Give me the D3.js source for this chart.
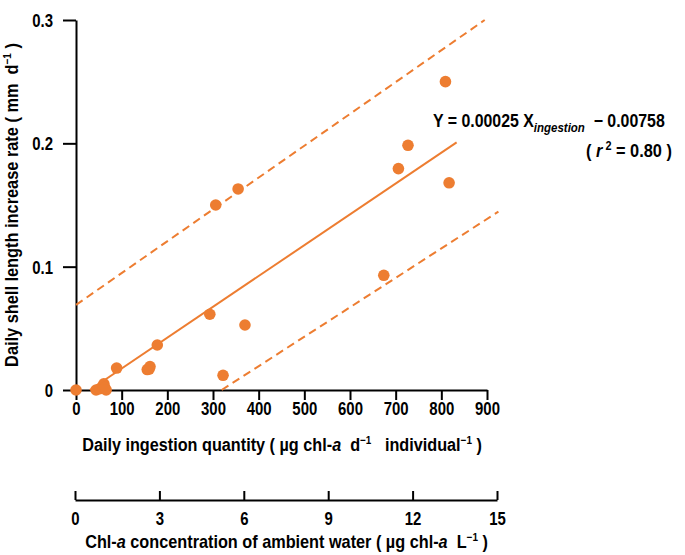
<!DOCTYPE html>
<html>
<head>
<meta charset="utf-8">
<script src="https://cdn.jsdelivr.net/npm/d3@7"></script>
<style>
  html, body { margin: 0; padding: 0; background: #fff; }
  svg { display: block; }
  text { font-family: "Liberation Sans Narrow", "Arial Narrow", "Liberation Sans", sans-serif; font-weight: bold; fill: #000; white-space: pre; }
</style>
</head>
<body>
<svg id="chart" width="685" height="555"></svg>
<script>
// ---- data ----
const ingestion = [0, 44, 52, 59, 61, 63, 66, 89, 156, 160, 162, 178, 293, 306, 322, 355, 370, 674, 706, 727, 809, 817];
const growth    = [0, 0.000, 0.001, 0.003, 0.005, 0.002, 0.000, 0.0178, 0.0166, 0.0170, 0.0190, 0.0365, 0.0614, 0.150, 0.0119, 0.163, 0.0527, 0.093, 0.1795, 0.1984, 0.250, 0.168];
const fitX = [30.3, 833.5];                 // Y = 0.00025 X - 0.00758
const fitY = fitX.map(v => 0.00025 * v - 0.00758);
const upperX = [0, 895];
const upperY = [0.069, 0.300];
const lowerX = [319, 925];
const lowerY = [0.000, 0.1446];
const xTicks = [0, 100, 200, 300, 400, 500, 600, 700, 800, 900];
const yTicks = [0, 0.1, 0.2, 0.3];
const x2Ticks = [0, 3, 6, 9, 12, 15];

const orange = "#ED7D31";
const squeeze = 0.83;
const svg = d3.select("#chart");

const x = d3.scaleLinear().domain([0, 900]).range([76, 487]);
const y = d3.scaleLinear().domain([0, 0.3]).range([390, 20]);
const x2 = d3.scaleLinear().domain([0, 15]).range([75, 497]);

// axes
const yAxis = svg.append("g").attr("transform", "translate(76,0)")
  .call(d3.axisLeft(y).tickValues(yTicks).tickSizeInner(13).tickSizeOuter(0).tickPadding(10)
    .tickFormat(d => d === 0 ? "0" : d3.format(".1f")(d)));
const xAxis = svg.append("g").attr("transform", "translate(0,390)")
  .call(d3.axisBottom(x).tickValues(xTicks).tickSizeInner(10).tickSizeOuter(0).tickPadding(2));
const x2Axis = svg.append("g").attr("transform", "translate(0,500)")
  .call(d3.axisBottom(x2).tickValues(x2Ticks).tickSizeInner(-9).tickSizeOuter(0).tickPadding(12));

[yAxis, xAxis, x2Axis].forEach(g => {
  g.selectAll("path, line").attr("stroke", "#000").attr("stroke-width", 2);
  g.selectAll("text").style("font-size", "18px").style("font-family", null).attr("fill", "#000")
    .attr("transform", `scale(${squeeze},1)`);
});
yAxis.selectAll("text").attr("dy", "0.36em").attr("x", -23 / squeeze);
xAxis.selectAll("text").attr("x", 0);
x2Axis.selectAll("text").attr("x", 0);

// lines
const line = d3.line().x(d => x(d[0])).y(d => y(d[1]));
svg.append("path").datum(d3.zip(upperX, upperY)).attr("d", line)
  .attr("fill", "none").attr("stroke", orange).attr("stroke-width", 2).attr("stroke-dasharray", "8,5");
svg.append("path").datum(d3.zip(lowerX, lowerY)).attr("d", line)
  .attr("fill", "none").attr("stroke", orange).attr("stroke-width", 2).attr("stroke-dasharray", "8,5");
svg.append("path").datum(d3.zip(fitX, fitY)).attr("d", line)
  .attr("fill", "none").attr("stroke", orange).attr("stroke-width", 2);

// points
svg.append("g").selectAll("circle").data(d3.zip(ingestion, growth)).join("circle")
  .attr("cx", d => x(d[0])).attr("cy", d => y(d[1])).attr("r", 5.8).attr("fill", orange);

// text helper: build in a group, then squeeze horizontally to a target width
function label(tx, ty, anchor, width, rotate, build) {
  const g = svg.append("g");
  const t = g.append("text").attr("x", 0).attr("y", 0).attr("text-anchor", anchor).attr("font-size", 18);
  build(t);
  const w = t.node().getBBox().width;
  const s = width / w;
  g.attr("transform", `translate(${tx},${ty})${rotate ? " rotate(" + rotate + ")" : ""} scale(${s},1)`);
  return t;
}
const NB = "\u00A0";

// y title
label(18, 205, "middle", 324, -90, t => {
  t.append("tspan").text(`Daily shell length increase rate ( mm${NB}${NB}d`);
  t.append("tspan").attr("font-size", 11).attr("dy", -7).text("−1");
  t.append("tspan").attr("dy", 7).text(`${NB})`);
});

// x title
label(282, 451, "middle", 400, 0, t => {
  t.append("tspan").text("Daily ingestion quantity ( µg chl-");
  t.append("tspan").attr("font-style", "italic").text("a");
  t.append("tspan").text(`${NB}${NB}d`);
  t.append("tspan").attr("font-size", 11).attr("dy", -7).text("−1");
  t.append("tspan").attr("dy", 7).text(`${NB}${NB}${NB}individual`);
  t.append("tspan").attr("font-size", 11).attr("dy", -7).text("−1");
  t.append("tspan").attr("dy", 7).text(`${NB})`);
});

// x2 title
label(286.5, 548, "middle", 403, 0, t => {
  t.append("tspan").text("Chl-");
  t.append("tspan").attr("font-style", "italic").text("a");
  t.append("tspan").text(" concentration of ambient water ( µg chl-");
  t.append("tspan").attr("font-style", "italic").text("a");
  t.append("tspan").text(`${NB}${NB}L`);
  t.append("tspan").attr("font-size", 11).attr("dy", -7).text("−1");
  t.append("tspan").attr("dy", 7).text(`${NB})`);
});

// equation
label(433, 127, "start", 232, 0, t => {
  t.append("tspan").text("Y = 0.00025 X");
  t.append("tspan").attr("font-style", "italic").attr("font-size", 13).attr("dy", 5).text("ingestion");
  t.append("tspan").attr("dy", -5).text(`${NB}${NB}− 0.00758`);
});

label(586, 157, "start", 86, 0, t => {
  t.append("tspan").text(`(${NB}`);
  t.append("tspan").attr("font-style", "italic").text("r");
  t.append("tspan").attr("font-size", 12).attr("dy", -7).text(`${NB}2`);
  t.append("tspan").attr("dy", 7).text(`${NB}= 0.80 )`);
});
</script>
</body>
</html>
